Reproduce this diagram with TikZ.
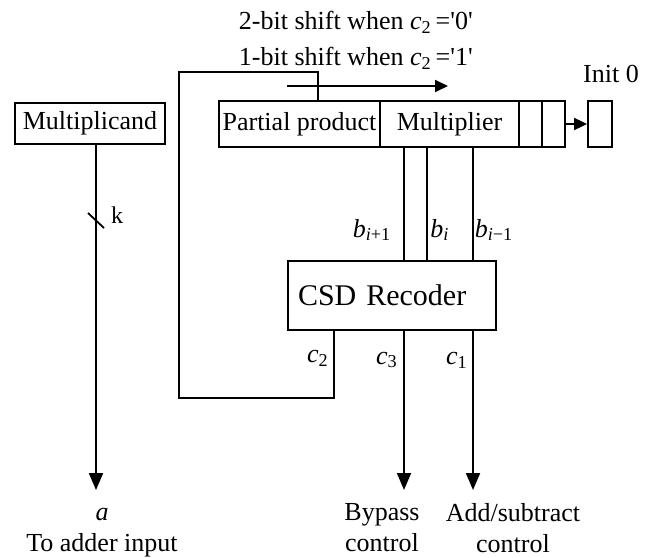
\documentclass[tikz,border=0pt]{standalone}
\usepackage{fontspec}
\setmainfont{Liberation Serif}
\usetikzlibrary{positioning, arrows.meta}

\begin{document}
\begin{tikzpicture}[
    x=0.5pt, y=-0.5pt,
    line width=0.9pt,
    font=\fontsize{13}{15.5}\selectfont,
    reg/.style={rectangle, draw, minimum height=23pt, inner sep=0pt},
    cell/.style={reg, minimum width=11.5pt},
    lbl/.style={inner sep=0pt},
    arrow/.style={-{Triangle[length=8.5pt, width=7pt]}},
    shiftarrow/.style={-{Triangle[length=6.5pt, width=6pt]}},
]
\useasboundingbox (0,0) rectangle (653,557);

% Shift register
\node[reg, minimum width=80.5pt] (pp) at (299.5,124) {Partial product};
\node[reg, minimum width=69.5pt] (mult) at (449.5,124) {Multiplier};
\node[cell] (cellA) at (530.5,124) {};
\node[cell] (cellB) at (553.5,124) {};
\node[cell, minimum width=12pt] (init) at (600,124) {};
\node[lbl] (initlbl) at (611,74) {Init 0};
\draw[shiftarrow] (cellB.east) -- (init.west);

% Shift amount
\node[lbl, anchor=west] (shift2) at (238,22) {2-bit shift when {\itshape c}\textsubscript{2}\kern2pt=\textquotesingle0\textquotesingle};
\node[lbl, anchor=west] (shift1) at (238,58) {1-bit shift when {\itshape c}\textsubscript{2}\kern2pt=\textquotesingle1\textquotesingle};
\coordinate (shiftL) at (287,86);
\coordinate (shiftR) at (448,86);
\draw[shiftarrow] (shiftL) -- (shiftR);

% Multiplicand
\node[reg, minimum width=75pt, minimum height=20.5pt] (mcand) at (90,123.5) {Multiplicand};

% Recoder
\node[rectangle, draw, minimum height=34.5pt, inner ysep=0pt, inner xsep=5pt,
      text width=94pt, align=left, font=\fontsize{15}{18}\selectfont] (csd) at (392,295.5) {CSD Recoder};

% Bits into the recoder
\foreach \bx in {404,427,473}
    \draw (mult.south -| \bx,0) -- (csd.north -| \bx,0);
\node[lbl] (bA) at (372,230) {{\itshape b}\textsubscript{\itshape i\upshape +1}};
\node[lbl] (bB) at (440,230) {{\itshape b}\textsubscript{\itshape i}};
\node[lbl] (bC) at (494,230) {{\itshape b}\textsubscript{\itshape i\upshape −1}};

% Feedback of c2 to the shift
\coordinate (fbin) at (318,101);
\coordinate (fbtop) at (179,72);
\coordinate (fbbot) at (334,398);
\draw (csd.south -| fbbot) -- (fbbot) -| (fbtop) -| (fbin);

% Outputs
\coordinate (atip) at (96,490);
\coordinate (btip) at (404,490);
\coordinate (ctip) at (473,490);
\draw[arrow] (mcand.south -| atip) -- (atip);
\draw[arrow] (csd.south -| btip) -- (btip);
\draw[arrow] (csd.south -| ctip) -- (ctip);

\coordinate (kmark) at (96,220);
\draw ([shift={(-8,-7)}]kmark) -- ([shift={(8,8)}]kmark);
\node[lbl, font=\fontsize{12}{14}\selectfont] (klbl) at (117,215) {k};

\node[lbl] (cB) at (318,358) {{\itshape c}\textsubscript{2}};
\node[lbl] (cC) at (387,360) {{\itshape c}\textsubscript{3}};
\node[lbl] (cA) at (457,360) {{\itshape c}\textsubscript{1}};

% Destinations
\node[lbl, align=center] (aout) at (102,527.5) {\strut{\itshape a}\\To adder input};
\node[lbl, align=center] (bypass) at (382,527.5) {Bypass\\control};
\node[lbl, align=center] (addsub) at (513,528) {Add/subtract\\control};

\end{tikzpicture}
\end{document}
